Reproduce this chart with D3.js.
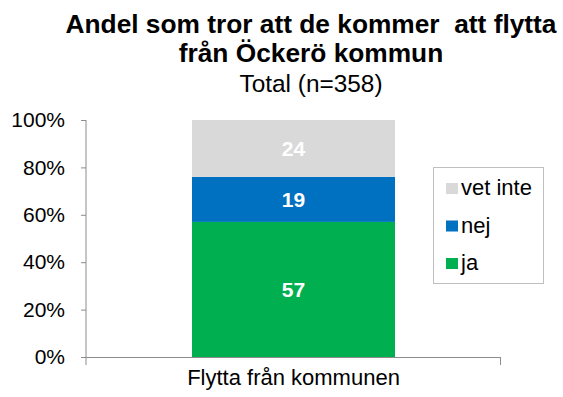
<!DOCTYPE html>
<html>
<head>
<meta charset="utf-8">
<script src="https://cdn.jsdelivr.net/npm/d3@7"></script>
<style>
  html, body { margin: 0; padding: 0; background: #fff; }
  svg { display: block; font-family: "Liberation Sans", Arial, sans-serif; }
</style>
</head>
<body>
<svg id="chart" width="563" height="397"></svg>
<script>
// Answer categories, bottom to top in the stack
const answers = ["ja", "nej", "vet inte"];
const answerColors = ["#00b050", "#0070c0", "#d9d9d9"];
// Share of respondents (percent) per answer
const shares = [57, 19, 24];
// Single category on the x axis
const categories = ["Flytta från kommunen"];
const yTicks = [0, 20, 40, 60, 80, 100];
const titleLines = ["Andel som tror att de kommer  att flytta", "från Öckerö kommun"];
const subtitle = "Total (n=358)";

const svg = d3.select("#chart");

const plot = { left: 86, right: 501, top: 120, bottom: 357 };

const x = d3.scaleBand().domain(categories).range([plot.left, plot.right]).padding(0.343);
const y = d3.scaleLinear().domain([0, 100]).range([plot.bottom, plot.top]);

// Title
const title = svg.append("g").attr("text-anchor", "middle").attr("fill", "#000");
title.selectAll("text.t").data(titleLines).join("text")
  .attr("class", "t")
  .attr("x", 311)
  .attr("y", (d, i) => 33 + i * 29)
  .attr("font-size", 26.3)
  .attr("font-weight", "bold")
  .style("white-space", "pre")
  .text(d => d);
title.append("text")
  .attr("x", 311).attr("y", 92)
  .attr("font-size", 24.4)
  .text(subtitle);

// Stacked data
const row = { cat: categories[0] };
answers.forEach((a, i) => row[a] = shares[i]);
const stack = d3.stack().keys(answers)([row]);
const color = d3.scaleOrdinal().domain(answers).range(answerColors);

const layers = svg.append("g").selectAll("g").data(stack).join("g")
  .attr("fill", d => color(d.key));
layers.selectAll("rect").data(d => d).join("rect")
  .attr("x", d => x(d.data.cat))
  .attr("width", x.bandwidth())
  .attr("y", d => y(d[1]))
  .attr("height", d => y(d[0]) - y(d[1]));

// Value labels
layers.selectAll("text").data(d => d.map(v => ({ v, key: d.key }))).join("text")
  .attr("x", d => x(d.v.data.cat) + x.bandwidth() / 2)
  .attr("y", d => y((d.v[0] + d.v[1]) / 2))
  .attr("dy", "0.35em")
  .attr("text-anchor", "middle")
  .attr("fill", "#fff")
  .attr("font-weight", "bold")
  .attr("font-size", 21)
  .text(d => d.v.data[d.key]);

// Y axis
const yAxis = svg.append("g")
  .attr("transform", `translate(${plot.left},0)`)
  .call(d3.axisLeft(y).tickValues(yTicks).tickFormat(d => d + "%").tickSize(5).tickPadding(16));
yAxis.select(".domain").remove();
yAxis.selectAll(".tick line").attr("stroke", "#8c8c8c");
yAxis.selectAll(".tick text").attr("font-size", 21).attr("fill", "#000")
  .attr("font-family", "Liberation Sans, Arial, sans-serif");
yAxis.append("line").attr("x1", 0).attr("x2", 0)
  .attr("y1", plot.top).attr("y2", plot.bottom + 8).attr("stroke", "#8c8c8c");

// X axis
const xAxis = svg.append("g");
xAxis.append("line").attr("x1", plot.left).attr("x2", plot.right)
  .attr("y1", plot.bottom + 0.5).attr("y2", plot.bottom + 0.5).attr("stroke", "#8c8c8c");
xAxis.append("line").attr("x1", plot.right - 0.5).attr("x2", plot.right - 0.5)
  .attr("y1", plot.bottom).attr("y2", plot.bottom + 8).attr("stroke", "#8c8c8c");
xAxis.selectAll("text").data(categories).join("text")
  .attr("x", d => x(d) + x.bandwidth() / 2)
  .attr("y", 385)
  .attr("text-anchor", "middle")
  .attr("font-size", 22)
  .attr("fill", "#000")
  .text(d => d);

// Legend (top entry is the top of the stack)
const legend = svg.append("g");
legend.append("rect")
  .attr("x", 433.5).attr("y", 167.5).attr("width", 110).attr("height", 116)
  .attr("fill", "#fff").attr("stroke", "#bfbfbf");
const legendItems = answers.slice().reverse();
const li = legend.selectAll("g.item").data(legendItems).join("g")
  .attr("class", "item")
  .attr("transform", (d, i) => `translate(446, ${195 + i * 37.5})`);
li.append("rect").attr("x", 0).attr("y", -12).attr("width", 12).attr("height", 11)
  .attr("fill", d => color(d));
li.append("text").attr("x", 15).attr("y", 0)
  .attr("font-size", 22).attr("fill", "#000")
  .text(d => d);
</script>
</body>
</html>
